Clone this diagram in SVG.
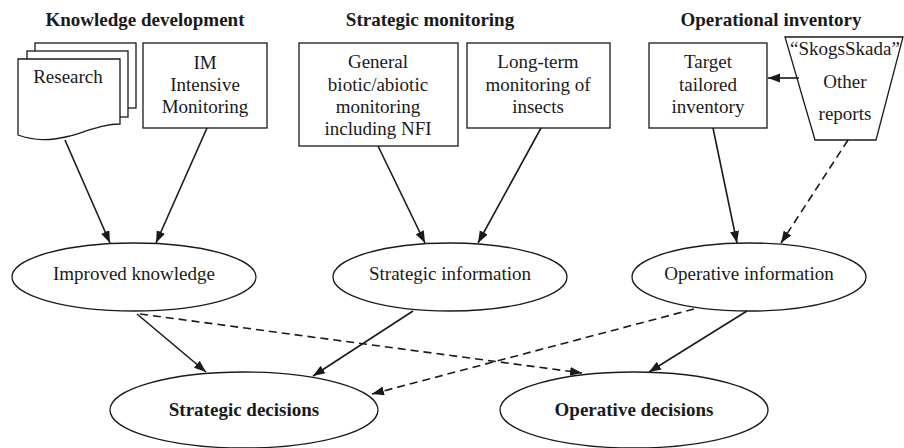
<svg xmlns="http://www.w3.org/2000/svg" width="904" height="448" viewBox="0 0 904 448">
<style>
.t{font-family:"Liberation Serif","Times New Roman",serif;font-size:19px;fill:#1a1a1a;text-anchor:middle}
.b{font-weight:bold}
.s{fill:#fff;stroke:#1a1a1a;stroke-width:1.3}
.c{fill:none;stroke:#1a1a1a;stroke-width:1.6}
.d{stroke-dasharray:8 5}
</style>
<defs>
<marker id="ah" markerUnits="userSpaceOnUse" markerWidth="13" markerHeight="10" refX="12" refY="4.5" orient="auto">
<path d="M0,0 L12,4.5 L0,9 Z" fill="#1a1a1a"/>
</marker>
</defs>
<rect width="904" height="448" fill="#fff"/>
<g id="titles">
<text class="t b" x="145" y="26">Knowledge development</text>
<text class="t b" x="430" y="26">Strategic monitoring</text>
<text class="t b" x="771" y="26">Operational inventory</text>
</g>
<g id="research">
<rect class="s" x="35" y="43" width="101" height="65"/>
<rect class="s" x="27" y="51" width="101" height="66"/>
<path class="s" d="M18,59 H120 V124 C105,124 90,130 70,136 C50,141 35,141 18,135 Z"/>
<text class="t" x="68" y="83">Research</text>
</g>
<g id="im">
<rect class="s" x="143" y="43" width="124" height="85"/>
<text class="t" x="205" y="69">IM</text>
<text class="t" x="205" y="91">Intensive</text>
<text class="t" x="205" y="113">Monitoring</text>
</g>
<g id="general">
<rect class="s" x="299" y="43" width="159" height="103"/>
<text class="t" x="378" y="68">General</text>
<text class="t" x="378" y="91">biotic/abiotic</text>
<text class="t" x="378" y="113">monitoring</text>
<text class="t" x="378" y="135">including NFI</text>
</g>
<g id="longterm">
<rect class="s" x="467" y="43" width="143" height="85"/>
<text class="t" x="538" y="68">Long-term</text>
<text class="t" x="538" y="91">monitoring of</text>
<text class="t" x="538" y="113">insects</text>
</g>
<g id="target">
<rect class="s" x="649" y="43" width="118" height="85"/>
<text class="t" x="708" y="68">Target</text>
<text class="t" x="708" y="91">tailored</text>
<text class="t" x="708" y="113">inventory</text>
</g>
<g id="skogsskada">
<polygon class="s" points="785,37 903,37 876,140 815,140"/>
<text class="t" x="845" y="55">“SkogsSkada”</text>
<text class="t" x="845" y="88">Other</text>
<text class="t" x="845" y="120">reports</text>
</g>
<g id="improved">
<ellipse class="s" cx="134" cy="277" rx="122" ry="34"/>
<text class="t" x="134" y="280">Improved knowledge</text>
</g>
<g id="strategicinfo">
<ellipse class="s" cx="450" cy="277" rx="117" ry="34"/>
<text class="t" x="450" y="280">Strategic information</text>
</g>
<g id="operativeinfo">
<ellipse class="s" cx="749" cy="277" rx="117" ry="34"/>
<text class="t" x="749" y="280">Operative information</text>
</g>
<g id="strategicdec">
<ellipse class="s" cx="244" cy="410" rx="134" ry="38"/>
<text class="t b" x="244" y="416">Strategic decisions</text>
</g>
<g id="operativedec">
<ellipse class="s" cx="634" cy="410" rx="134" ry="38"/>
<text class="t b" x="634" y="416">Operative decisions</text>
</g>
<g id="connectors">
<line class="c" x1="799" y1="78" x2="768" y2="78" marker-end="url(#ah)"/>
<line class="c" x1="65" y1="140" x2="110" y2="243" marker-end="url(#ah)"/>
<line class="c" x1="207" y1="128" x2="156" y2="243" marker-end="url(#ah)"/>
<line class="c" x1="378" y1="146" x2="425" y2="243" marker-end="url(#ah)"/>
<line class="c" x1="541" y1="128" x2="478" y2="243" marker-end="url(#ah)"/>
<line class="c" x1="713" y1="128" x2="737" y2="243" marker-end="url(#ah)"/>
<line class="c d" x1="848" y1="140" x2="781" y2="243" marker-end="url(#ah)"/>
<line class="c" x1="137" y1="314" x2="206" y2="372" marker-end="url(#ah)"/>
<line class="c" x1="413" y1="311" x2="313" y2="376" marker-end="url(#ah)"/>
<line class="c d" x1="140" y1="314" x2="582" y2="373" marker-end="url(#ah)"/>
<line class="c d" x1="694" y1="309" x2="372" y2="394" marker-end="url(#ah)"/>
<line class="c" x1="747" y1="311" x2="649" y2="372" marker-end="url(#ah)"/>
</g>
</svg>
